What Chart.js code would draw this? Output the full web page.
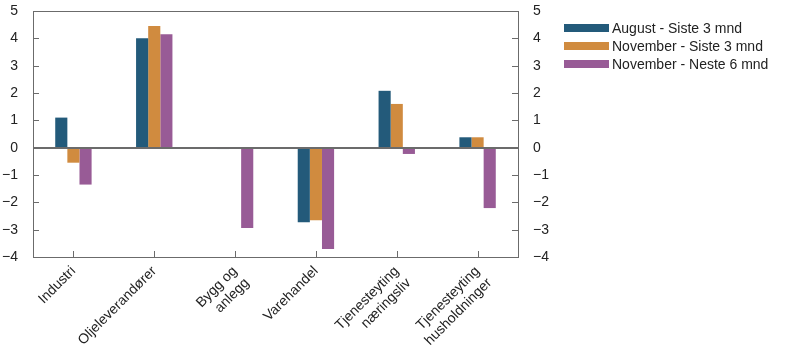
<!DOCTYPE html>
<html>
<head>
<meta charset="utf-8">
<script src="https://cdn.jsdelivr.net/npm/chart.js@4.4.0/dist/chart.umd.min.js"></script>
<style>
  html,body{margin:0;padding:0;background:#fff}
  #wrap{position:relative;width:797px;height:360px}
  #c{display:block}
  #legend{position:absolute;left:564px;top:19px;font-family:"Liberation Sans",Arial,sans-serif;font-size:14px;color:#222}
  .lg{display:flex;align-items:center;height:18px}
  .lg span.box{display:inline-block;width:45px;height:8px;margin-right:3px}
</style>
</head>
<body>
<div id="wrap">
  <canvas id="c" width="797" height="360"></canvas>
  <div id="legend"></div>
</div>
<script>
const categories = [['Industri'], ['Oljeleverandører'], ['Bygg og','anlegg'], ['Varehandel'], ['Tjenesteyting','næringsliv'], ['Tjenesteyting','husholdninger']];
const augSiste3 = [1.1, 4.0, -0.05, -2.73, 2.08, 0.38];
const novSiste3 = [-0.55, 4.45, -0.02, -2.66, 1.6, 0.38];
const novNeste6 = [-1.35, 4.15, -2.94, -3.71, -0.23, -2.21];
const yTicks = [-4, -3, -2, -1, 0, 1, 2, 3, 4, 5];

const FONT = '"Liberation Sans", Arial, sans-serif';
const AXIS = '#6b6b6b';

const datasets = [
  {label:'August - Siste 3 mnd', data:augSiste3, backgroundColor:'#235a7a'},
  {label:'November - Siste 3 mnd', data:novSiste3, backgroundColor:'#d08b3f'},
  {label:'November - Neste 6 mnd', data:novNeste6, backgroundColor:'#985b96'},
];

document.getElementById('legend').innerHTML = datasets.map(d =>
  `<div class="lg"><span class="box" style="background:${d.backgroundColor}"></span>${d.label}</div>`).join('');

// frame, zero line and inward tick marks
const frame = {
  id:'frame',
  afterDatasetsDraw(chart){
    const {ctx, chartArea:a, scales} = chart;
    ctx.save();
    ctx.strokeStyle = AXIS;
    ctx.lineWidth = 1;
    ctx.beginPath();
    ctx.moveTo(a.left, a.top+0.5); ctx.lineTo(a.right, a.top+0.5);
    scales.y.ticks.forEach((t,i) => {
      const py = Math.round(scales.y.getPixelForTick(i)) + 0.5;
      ctx.moveTo(a.left, py); ctx.lineTo(a.left+6, py);
      ctx.moveTo(a.right, py); ctx.lineTo(a.right-6, py);
    });
    scales.x.ticks.forEach((t,i) => {
      const px = Math.round(scales.x.getPixelForTick(i)) + 0.5;
      ctx.moveTo(px, a.bottom); ctx.lineTo(px, a.bottom-6);
    });
    ctx.stroke();
    const z = Math.round(scales.y.getPixelForValue(0));
    ctx.lineWidth = 2;
    ctx.beginPath();
    ctx.moveTo(a.left, z); ctx.lineTo(a.right, z);
    ctx.stroke();
    ctx.restore();
  }
};

const yCommon = {
  min:-4, max:5,
  afterBuildTicks(s){ s.ticks = yTicks.map(v => ({value:v})); },
  grid:{drawOnChartArea:false, drawTicks:false},
  border:{display:true, color:AXIS, width:1},
  ticks:{padding:15, color:'#222', font:{family:FONT, size:14}, callback:v => String(v).replace('-', '\u2212')},
};

new Chart(document.getElementById('c'), {
  type:'bar',
  data:{labels:categories, datasets},
  options:{
    responsive:false,
    animation:false,
    events:[],
    layout:{padding:{left:0, right:239, top:11, bottom:0}},
    plugins:{legend:{display:false}, tooltip:{enabled:false}},
    datasets:{bar:{categoryPercentage:0.45, barPercentage:1}},
    scales:{
      x:{
        grid:{drawOnChartArea:false, drawTicks:false},
        border:{display:true, color:AXIS, width:1},
        ticks:{minRotation:45, maxRotation:45, padding:6, color:'#222', font:{family:FONT, size:14}, autoSkip:false},
        afterFit(s){ s.height = 103; s.paddingLeft = 0; s.paddingRight = 0; },
      },
      y:{...yCommon, position:'left', afterFit(s){ s.width = 33; s.paddingTop = 0; s.paddingBottom = 0; }},
      y2:{...yCommon, position:'right', afterFit(s){ s.width = 40; s.paddingTop = 0; s.paddingBottom = 0; }},
    }
  },
  plugins:[frame]
});
</script>
</body>
</html>
